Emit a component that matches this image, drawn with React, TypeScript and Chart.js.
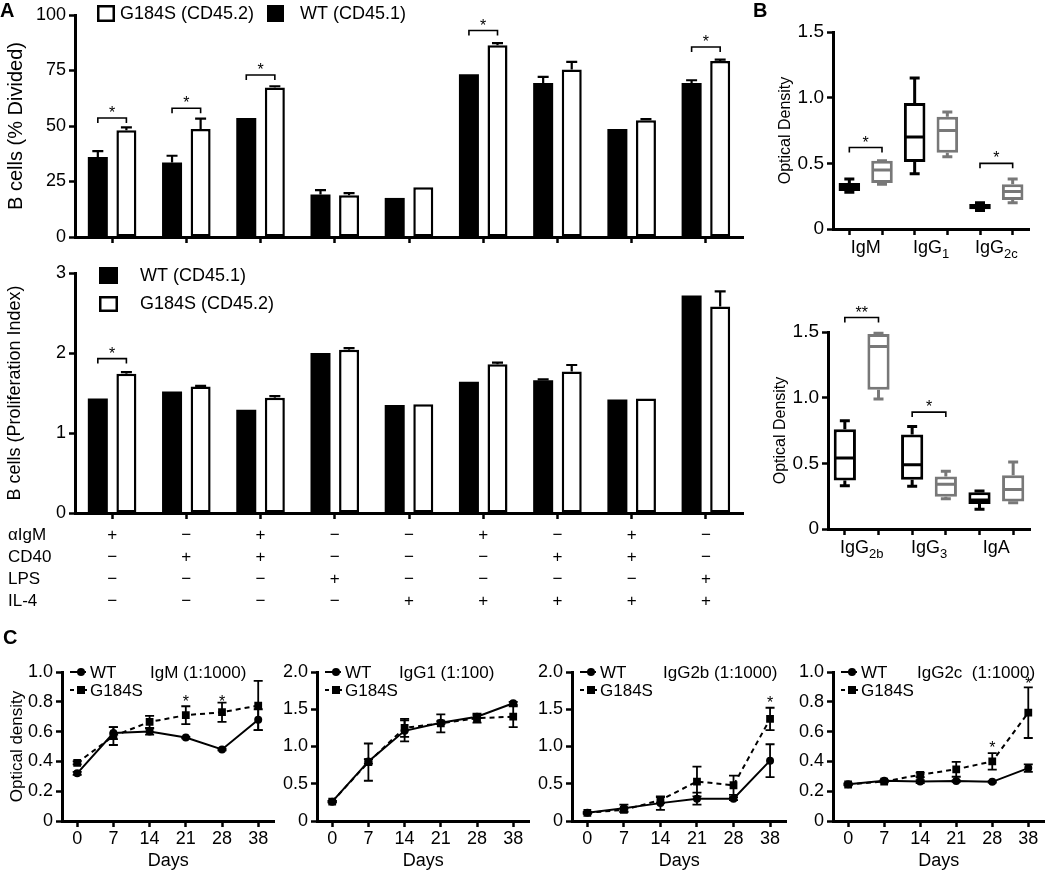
import React, { useEffect, useRef } from 'react';
import { Chart, registerables } from 'chart.js';

Chart.register(...registerables);

const FONT = "'Liberation Sans', Arial, Helvetica, sans-serif";
Chart.defaults.font.family = FONT;
Chart.defaults.color = '#000';

const BLACK = '#000';
const GRAY = '#787878';

// ---------------- Panel A data ----------------
const conditionLabels = ['c1', 'c2', 'c3', 'c4', 'c5', 'c6', 'c7', 'c8', 'c9'];
const treatmentRows = ['αIgM', 'CD40', 'LPS', 'IL-4'];
const rowAlphaIgM = ['+', '−', '+', '−', '−', '+', '−', '+', '−'];
const rowCD40 = ['−', '+', '+', '−', '−', '−', '+', '+', '−'];
const rowLPS = ['−', '−', '−', '+', '−', '−', '−', '−', '+'];
const rowIL4 = ['−', '−', '−', '−', '+', '+', '+', '+', '+'];

const dividedWT = [36.0, 33.6, 53.6, 19.2, 17.6, 73.3, 69.4, 48.6, 69.4];
const dividedWTErr = [2.7, 3.0, 0, 1.9, 0, 0, 2.7, 0, 1.2];
const dividedG184S = [48.1, 48.6, 67.3, 18.8, 22.4, 86.4, 75.5, 52.6, 79.3];
const dividedG184SErr = [1.3, 4.7, 0.6, 1.0, 0, 0.9, 3.4, 0.5, 0.6];
const dividedSigIdx = [0, 1, 2, 5, 8];
const dividedSigY = [53.6, 58.0, 73.0, 93.0, 85.6];

const prolifWT = [1.43, 1.52, 1.29, 2.0, 1.35, 1.64, 1.66, 1.42, 2.72];
const prolifWTErr = [0, 0, 0, 0, 0, 0, 0.01, 0, 0];
const prolifG184S = [1.74, 1.58, 1.44, 2.04, 1.36, 1.86, 1.77, 1.43, 2.58];
const prolifG184SErr = [0.02, 0.01, 0.02, 0.02, 0, 0.02, 0.08, 0, 0.19];
const prolifSigIdx = [0];
const prolifSigY = [1.93];

// ---------------- Panel B data: [min, q1, median, q3, max] ----------------
const igM_WT = [0.28, 0.29, 0.32, 0.35, 0.38];
const igM_G184S = [0.34, 0.35, 0.45, 0.52, 0.52];
const igG1_WT = [0.42, 0.51, 0.70, 0.96, 1.15];
const igG1_G184S = [0.55, 0.58, 0.75, 0.855, 0.89];
const igG2c_WT = [0.14, 0.15, 0.17, 0.19, 0.20];
const igG2c_G184S = [0.20, 0.22, 0.285, 0.34, 0.38];
const b1Labels = ['IgM', 'IgG', 'IgG'];
const b1Subs = ['', '1', '2c'];
const b1SigIdx = [0, 2];
const b1SigY = [0.62, 0.50];
const b1SigText = ['*', '*'];

const igG2b_WT = [0.33, 0.37, 0.54, 0.76, 0.825];
const igG2b_G184S = [0.99, 1.06, 1.39, 1.485, 1.49];
const igG3_WT = [0.325, 0.375, 0.49, 0.72, 0.78];
const igG3_G184S = [0.23, 0.245, 0.34, 0.40, 0.44];
const igA_WT = [0.15, 0.19, 0.22, 0.28, 0.29];
const igA_G184S = [0.20, 0.21, 0.30, 0.41, 0.51];
const b2Labels = ['IgG', 'IgG', 'IgA'];
const b2Subs = ['2b', '3', ''];
const b2SigIdx = [0, 1];
const b2SigY = [1.61, 0.89];
const b2SigText = ['**', '*'];

// ---------------- Panel C data ----------------
const dayLabels = ['0', '7', '14', '21', '28', '38'];

const igmWT = [0.32, 0.59, 0.60, 0.56, 0.48, 0.68];
const igmWTErr = [0.01, 0.04, 0.02, 0.005, 0.005, 0.07];
const igmG184S = [0.39, 0.57, 0.665, 0.71, 0.73, 0.775];
const igmG184SErr = [0.01, 0.06, 0.04, 0.06, 0.065, 0.165];
const igmStarIdx = [3, 4];
const igmStarY = [0.825, 0.825];

const igg1WT = [0.26, 0.80, 1.21, 1.32, 1.40, 1.58];
const igg1WTErr = [0.01, 0.03, 0.14, 0.02, 0.02, 0.02];
const igg1G184S = [0.26, 0.79, 1.25, 1.31, 1.38, 1.40];
const igg1G184SErr = [0.01, 0.25, 0.12, 0.12, 0.06, 0.14];
const igg1StarIdx: number[] = [];
const igg1StarY: number[] = [];

const igg2bWT = [0.11, 0.17, 0.24, 0.30, 0.30, 0.81];
const igg2bWTErr = [0.01, 0.05, 0.09, 0.08, 0.02, 0.22];
const igg2bG184S = [0.11, 0.15, 0.28, 0.53, 0.48, 1.37];
const igg2bG184SErr = [0.01, 0.02, 0.04, 0.20, 0.13, 0.15];
const igg2bStarIdx = [5];
const igg2bStarY = [1.64];

const igg2cWT = [0.247, 0.27, 0.265, 0.268, 0.263, 0.355];
const igg2cWTErr = [0.005, 0.005, 0.01, 0.005, 0.005, 0.025];
const igg2cG184S = [0.245, 0.265, 0.31, 0.347, 0.40, 0.727];
const igg2cG184SErr = [0.005, 0.005, 0.015, 0.05, 0.055, 0.17];
const igg2cStarIdx = [4, 5];
const igg2cStarY = [0.515, 0.945];

// ---------------- helpers ----------------
function yAxis(o: {
  min: number; max: number; step: number; width: number; title?: string; titlePad?: number;
  titleSize?: number; tickSize?: number; fmt: (v: number) => string;
}) {
  return {
    type: 'linear',
    min: o.min,
    max: o.max,
    ticks: { stepSize: o.step, font: { size: o.tickSize ?? 17 }, color: BLACK, padding: 3, callback: (v: any) => o.fmt(Number(v)) },
    grid: { display: true, drawOnChartArea: false, drawTicks: true, tickLength: 6, tickWidth: 2.5, tickColor: BLACK },
    border: { display: true, width: 3, color: BLACK },
    title: o.title
      ? { display: true, text: o.title, font: { size: o.titleSize ?? 17 }, color: BLACK, padding: { top: o.titlePad ?? 5, bottom: 0 } }
      : { display: false },
    afterFit: (s: any) => { s.width = o.width; },
  };
}

function catAxis(height: number) {
  return {
    type: 'category',
    offset: true,
    ticks: { display: false },
    grid: { display: true, offset: false, drawOnChartArea: false, drawTicks: true, tickLength: 6, tickWidth: 2.5, tickColor: BLACK },
    border: { display: true, width: 3, color: BLACK },
    afterFit: (s: any) => { s.height = height; },
  };
}

function drawStar(ctx: CanvasRenderingContext2D, x: number, yCenter: number, text: string, size = 15) {
  ctx.save();
  ctx.fillStyle = BLACK;
  ctx.font = `${size}px ${FONT}`;
  ctx.textAlign = 'center';
  ctx.textBaseline = 'alphabetic';
  ctx.fillText(text, x, yCenter + 0.57 * size);
  ctx.restore();
}

function drawBracket(ctx: CanvasRenderingContext2D, x1: number, x2: number, y: number, text: string) {
  ctx.save();
  ctx.strokeStyle = BLACK;
  ctx.lineWidth = 1.6;
  ctx.beginPath();
  ctx.moveTo(x1, y + 5);
  ctx.lineTo(x1, y);
  ctx.lineTo(x2, y);
  ctx.lineTo(x2, y + 5);
  ctx.stroke();
  ctx.restore();
  drawStar(ctx, (x1 + x2) / 2, y - 9, text, 16);
}

function drawBarErrors(chart: any, dsIndex: number, values: number[], errs: number[]) {
  const ctx = chart.ctx;
  const y = chart.scales.y;
  const meta = chart.getDatasetMeta(dsIndex);
  ctx.save();
  ctx.strokeStyle = BLACK;
  ctx.lineWidth = 2.2;
  errs.forEach((e, i) => {
    if (!e) return;
    const el: any = meta.data[i];
    const y0 = y.getPixelForValue(values[i]);
    const y1 = y.getPixelForValue(values[i] + e);
    ctx.beginPath();
    ctx.moveTo(el.x, y0);
    ctx.lineTo(el.x, y1);
    ctx.moveTo(el.x - 5.5, y1);
    ctx.lineTo(el.x + 5.5, y1);
    ctx.stroke();
  });
  ctx.restore();
}

function legendBox(ctx: CanvasRenderingContext2D, x: number, y: number, w: number, h: number, filled: boolean, text: string, tx: number, size = 17) {
  ctx.save();
  if (filled) {
    ctx.fillStyle = BLACK;
    ctx.fillRect(x, y, w, h);
  } else {
    ctx.strokeStyle = BLACK;
    ctx.lineWidth = 2.5;
    ctx.strokeRect(x + 1.25, y + 1.25, w - 2.5, h - 2.5);
  }
  ctx.fillStyle = BLACK;
  ctx.font = `${size}px ${FONT}`;
  ctx.textAlign = 'left';
  ctx.textBaseline = 'middle';
  ctx.fillText(text, tx, y + h / 2 + 0.5);
  ctx.restore();
}

const baseOptions = (padTop: number, padRight: number) => ({
  responsive: false,
  animation: false,
  layout: { padding: { top: padTop, right: padRight, left: 0, bottom: 0 } },
  plugins: { legend: { display: false }, tooltip: { enabled: false } },
});

// ---------------- Panel A charts ----------------
function makeBarChart(o: {
  wt: number[]; wtErr: number[]; g: number[]; gErr: number[]; sigIdx: number[]; sigY: number[];
  max: number; step: number; title: string; titlePad: number; titleSize: number; padTop: number; xHeight: number;
  legend: (ctx: CanvasRenderingContext2D) => void; table: boolean;
}) {
  return {
    type: 'bar',
    data: {
      labels: conditionLabels,
      datasets: [
        { label: 'WT (CD45.1)', data: o.wt, backgroundColor: BLACK, borderColor: BLACK, borderWidth: 0, barPercentage: 0.7, categoryPercentage: 0.77 },
        { label: 'G184S (CD45.2)', data: o.g, backgroundColor: '#fff', borderColor: BLACK, borderWidth: 2.5, borderSkipped: false, barPercentage: 0.7, categoryPercentage: 0.77 },
      ],
    },
    options: {
      ...baseOptions(o.padTop, 17),
      scales: {
        x: catAxis(o.xHeight),
        y: yAxis({ min: 0, max: o.max, step: o.step, width: 75, title: o.title, titlePad: o.titlePad, titleSize: o.titleSize, tickSize: 18, fmt: (v) => String(v) }),
      },
    },
    plugins: [
      {
        id: 'barExtras',
        afterDatasetsDraw(chart: any) {
          const ctx = chart.ctx;
          drawBarErrors(chart, 0, o.wt, o.wtErr);
          drawBarErrors(chart, 1, o.g, o.gErr);
          const m0 = chart.getDatasetMeta(0);
          const m1 = chart.getDatasetMeta(1);
          o.sigIdx.forEach((gi, k) => {
            const y = chart.scales.y.getPixelForValue(o.sigY[k]);
            drawBracket(ctx, m0.data[gi].x, m1.data[gi].x, y, '*');
          });
          o.legend(ctx);
          if (o.table) {
            const xs = chart.scales.x;
            const rows = [rowAlphaIgM, rowCD40, rowLPS, rowIL4];
            ctx.save();
            ctx.fillStyle = BLACK;
            ctx.font = `17px ${FONT}`;
            ctx.textBaseline = 'middle';
            rows.forEach((row, r) => {
              const y = chart.chartArea.bottom + 22 + r * 22;
              ctx.textAlign = 'left';
              ctx.fillText(treatmentRows[r], 8, y);
              ctx.textAlign = 'center';
              row.forEach((s, i) => ctx.fillText(s, xs.getPixelForValue(i), y));
            });
            ctx.restore();
          }
        },
      },
    ],
  };
}

const makeA1 = () =>
  makeBarChart({
    wt: dividedWT, wtErr: dividedWTErr, g: dividedG184S, gErr: dividedG184SErr,
    sigIdx: dividedSigIdx, sigY: dividedSigY, max: 100, step: 25,
    title: 'B cells (% Divided)', titlePad: 4, titleSize: 20, padTop: 15, xHeight: 15, table: false,
    legend: (ctx) => {
      legendBox(ctx, 97, 5, 18, 17, false, 'G184S (CD45.2)', 120, 18);
      legendBox(ctx, 267, 5, 17, 17, true, 'WT (CD45.1)', 300, 18);
    },
  });

const makeA2 = () =>
  makeBarChart({
    wt: prolifWT, wtErr: prolifWTErr, g: prolifG184S, gErr: prolifG184SErr,
    sigIdx: prolifSigIdx, sigY: prolifSigY, max: 3, step: 1,
    title: 'B cells (Proliferation Index)', titlePad: 4, titleSize: 18, padTop: 18, xHeight: 102, table: true,
    legend: (ctx) => {
      legendBox(ctx, 99, 12, 19, 17, true, 'WT (CD45.1)', 140, 18);
      legendBox(ctx, 99, 41, 19, 16, false, 'G184S (CD45.2)', 140, 18);
    },
  });

// ---------------- Panel B charts ----------------
function makeBoxChart(o: {
  boxes: number[][]; labels: string[]; subs: string[]; sigIdx: number[]; sigY: number[]; sigText: string[];
  padTop: number; padRight: number;
}) {
  const colors = o.boxes.map((_, i) => (i % 2 === 0 ? BLACK : GRAY));
  return {
    type: 'bar',
    data: {
      labels: o.boxes.map((_, i) => 'b' + i),
      datasets: [
        {
          label: 'box',
          data: o.boxes.map((b) => [b[1], b[3]]),
          backgroundColor: '#fff',
          borderColor: colors,
          borderWidth: 3,
          borderSkipped: false,
          barPercentage: 0.66,
          categoryPercentage: 1,
        },
      ],
    },
    options: {
      ...baseOptions(o.padTop, o.padRight),
      scales: {
        x: catAxis(41),
        y: yAxis({ min: 0, max: 1.5, step: 0.5, width: 63, title: 'Optical Density', titlePad: 6, titleSize: 16, tickSize: 19, fmt: (v) => (v === 0 ? '0' : v.toFixed(1)) }),
      },
    },
    plugins: [
      {
        id: 'boxExtras',
        afterDatasetsDraw(chart: any) {
          const ctx = chart.ctx;
          const ys = chart.scales.y;
          const meta = chart.getDatasetMeta(0);
          o.boxes.forEach((b, i) => {
            const el: any = meta.data[i];
            const x = el.x;
            const w = el.width;
            ctx.save();
            ctx.strokeStyle = colors[i];
            ctx.lineWidth = 3;
            ctx.beginPath();
            ctx.moveTo(x - w / 2 + 1, ys.getPixelForValue(b[2]));
            ctx.lineTo(x + w / 2 - 1, ys.getPixelForValue(b[2]));
            ctx.moveTo(x, ys.getPixelForValue(b[3]));
            ctx.lineTo(x, ys.getPixelForValue(b[4]));
            ctx.moveTo(x - 5, ys.getPixelForValue(b[4]));
            ctx.lineTo(x + 5, ys.getPixelForValue(b[4]));
            ctx.moveTo(x, ys.getPixelForValue(b[1]));
            ctx.lineTo(x, ys.getPixelForValue(b[0]));
            ctx.moveTo(x - 5, ys.getPixelForValue(b[0]));
            ctx.lineTo(x + 5, ys.getPixelForValue(b[0]));
            ctx.stroke();
            ctx.restore();
          });
          o.sigIdx.forEach((gi, k) => {
            const y = ys.getPixelForValue(o.sigY[k]);
            drawBracket(ctx, meta.data[gi * 2].x, meta.data[gi * 2 + 1].x, y, o.sigText[k]);
          });
          const xs = chart.scales.x;
          ctx.save();
          ctx.fillStyle = BLACK;
          ctx.textBaseline = 'middle';
          o.labels.forEach((lab, gi) => {
            const cx = (xs.getPixelForValue(gi * 2) + xs.getPixelForValue(gi * 2 + 1)) / 2;
            const y = chart.chartArea.bottom + 19;
            ctx.font = `18px ${FONT}`;
            const w1 = ctx.measureText(lab).width;
            ctx.font = `13px ${FONT}`;
            const w2 = o.subs[gi] ? ctx.measureText(o.subs[gi]).width : 0;
            const start = cx - (w1 + w2) / 2;
            ctx.font = `18px ${FONT}`;
            ctx.textAlign = 'left';
            ctx.fillText(lab, start, y);
            if (o.subs[gi]) {
              ctx.font = `13px ${FONT}`;
              ctx.fillText(o.subs[gi], start + w1, y + 6);
            }
          });
          ctx.restore();
        },
      },
    ],
  };
}

const makeB1 = () =>
  makeBoxChart({
    boxes: [igM_WT, igM_G184S, igG1_WT, igG1_G184S, igG2c_WT, igG2c_G184S],
    labels: b1Labels, subs: b1Subs, sigIdx: b1SigIdx, sigY: b1SigY, sigText: b1SigText,
    padTop: 32, padRight: 21,
  });

const makeB2 = () =>
  makeBoxChart({
    boxes: [igG2b_WT, igG2b_G184S, igG3_WT, igG3_G184S, igA_WT, igA_G184S],
    labels: b2Labels, subs: b2Subs, sigIdx: b2SigIdx, sigY: b2SigY, sigText: b2SigText,
    padTop: 42, padRight: 20,
  });

// ---------------- Panel C charts ----------------
function makeLineChart(o: {
  wt: number[]; wtErr: number[]; g: number[]; gErr: number[]; max: number; step: number;
  yWidth: number; yTitle?: string; title: string; titleDx: number; starIdx: number[]; starY: number[]; padRight: number;
}) {
  const pts = (arr: number[]) => arr.map((v, i) => ({ x: i, y: v }));
  return {
    type: 'line',
    data: {
      datasets: [
        { label: 'WT', data: pts(o.wt), borderColor: BLACK, backgroundColor: BLACK, borderWidth: 2, tension: 0, pointStyle: 'circle', pointRadius: 4, pointBackgroundColor: BLACK, pointBorderWidth: 0 },
        { label: 'G184S', data: pts(o.g), borderColor: BLACK, backgroundColor: BLACK, borderWidth: 2, borderDash: [5, 4], tension: 0, pointStyle: 'rect', pointRadius: 5.5, pointBackgroundColor: BLACK, pointBorderWidth: 0 },
      ],
    },
    options: {
      ...baseOptions(32, o.padRight),
      scales: {
        x: {
          type: 'linear',
          min: -0.42,
          max: 5.45,
          afterBuildTicks: (s: any) => { s.ticks = dayLabels.map((_, i) => ({ value: i })); },
          ticks: { font: { size: 18 }, color: BLACK, padding: 1, autoSkip: false, maxRotation: 0, callback: (v: any) => dayLabels[v] ?? '' },
          grid: { display: true, drawOnChartArea: false, drawTicks: true, tickLength: 6, tickWidth: 2.5, tickColor: BLACK },
          border: { display: true, width: 3, color: BLACK },
          title: { display: true, text: 'Days', font: { size: 18 }, color: BLACK, padding: { top: 0, bottom: 0 } },
          afterFit: (s: any) => { s.height = 51; },
        },
        y: yAxis({ min: 0, max: o.max, step: o.step, width: o.yWidth, title: o.yTitle, titlePad: 7, titleSize: 17, tickSize: 18, fmt: (v) => (v === 0 ? '0' : v.toFixed(1)) }),
      },
    },
    plugins: [
      {
        id: 'lineExtras',
        afterDatasetsDraw(chart: any) {
          const ctx = chart.ctx;
          const xs = chart.scales.x;
          const ys = chart.scales.y;
          ctx.save();
          ctx.strokeStyle = BLACK;
          ctx.lineWidth = 1.8;
          const err = (vals: number[], errs: number[]) => {
            vals.forEach((v, i) => {
              const e = errs[i];
              if (!e) return;
              const x = xs.getPixelForValue(i);
              const y0 = ys.getPixelForValue(v - e);
              const y1 = ys.getPixelForValue(v + e);
              ctx.beginPath();
              ctx.moveTo(x, y0);
              ctx.lineTo(x, y1);
              ctx.moveTo(x - 4.5, y0);
              ctx.lineTo(x + 4.5, y0);
              ctx.moveTo(x - 4.5, y1);
              ctx.lineTo(x + 4.5, y1);
              ctx.stroke();
            });
          };
          err(o.wt, o.wtErr);
          err(o.g, o.gErr);
          ctx.restore();
          o.starIdx.forEach((si, k) => drawStar(ctx, xs.getPixelForValue(si), ys.getPixelForValue(o.starY[k]), '*', 16));

          // legend + title
          const ca = chart.chartArea;
          const lx = ca.left + 8;
          const y1 = ca.top;
          const y2 = ca.top + 18;
          ctx.save();
          ctx.strokeStyle = BLACK;
          ctx.fillStyle = BLACK;
          ctx.lineWidth = 2;
          ctx.beginPath();
          ctx.moveTo(lx, y1);
          ctx.lineTo(lx + 16, y1);
          ctx.stroke();
          ctx.beginPath();
          ctx.arc(lx + 11, y1, 4, 0, Math.PI * 2);
          ctx.fill();
          ctx.setLineDash([4, 3]);
          ctx.beginPath();
          ctx.moveTo(lx, y2);
          ctx.lineTo(lx + 17, y2);
          ctx.stroke();
          ctx.setLineDash([]);
          ctx.fillRect(lx + 7, y2 - 4, 8, 8);
          ctx.font = `17px ${FONT}`;
          ctx.textAlign = 'left';
          ctx.textBaseline = 'middle';
          ctx.fillText('WT', lx + 20, y1 + 1);
          ctx.fillText('G184S', lx + 20, y2 + 1);
          ctx.fillText(o.title, ca.left + o.titleDx, y1 + 1);
          ctx.restore();
        },
      },
    ],
  };
}

const makeC1 = () =>
  makeLineChart({ wt: igmWT, wtErr: igmWTErr, g: igmG184S, gErr: igmG184SErr, max: 1, step: 0.2, yWidth: 62, yTitle: 'Optical density', title: 'IgM (1:1000)', titleDx: 88, starIdx: igmStarIdx, starY: igmStarY, padRight: 4 });
const makeC2 = () =>
  makeLineChart({ wt: igg1WT, wtErr: igg1WTErr, g: igg1G184S, gErr: igg1G184SErr, max: 2, step: 0.5, yWidth: 52, title: 'IgG1 (1:100)', titleDx: 82, starIdx: igg1StarIdx, starY: igg1StarY, padRight: 5 });
const makeC3 = () =>
  makeLineChart({ wt: igg2bWT, wtErr: igg2bWTErr, g: igg2bG184S, gErr: igg2bG184SErr, max: 2, step: 0.5, yWidth: 47, title: 'IgG2b (1:1000)', titleDx: 91, starIdx: igg2bStarIdx, starY: igg2bStarY, padRight: 3 });
const makeC4 = () =>
  makeLineChart({ wt: igg2cWT, wtErr: igg2cWTErr, g: igg2cG184S, gErr: igg2cG184SErr, max: 1, step: 0.2, yWidth: 48, title: 'IgG2c  (1:1000)', titleDx: 84, starIdx: igg2cStarIdx, starY: igg2cStarY, padRight: 1 });

// ---------------- components ----------------
function ChartCanvas({ x, y, w, h, make }: { x: number; y: number; w: number; h: number; make: () => any }) {
  const ref = useRef<HTMLCanvasElement>(null);
  useEffect(() => {
    const chart = new Chart(ref.current as HTMLCanvasElement, make());
    return () => chart.destroy();
  }, []);
  return <canvas ref={ref} width={w} height={h} style={{ position: 'absolute', left: x, top: y, width: w, height: h }} />;
}

const letterStyle = (left: number, top: number): React.CSSProperties => ({
  position: 'absolute',
  left,
  top,
  fontFamily: FONT,
  fontWeight: 'bold',
  fontSize: 20,
  lineHeight: '20px',
  color: '#000',
});

export default function App() {
  return (
    <div style={{ position: 'absolute', left: 0, top: 0, width: 1050, height: 872, background: '#fff', overflow: 'hidden' }}>
      <ChartCanvas x={0} y={0} w={760} h={252} make={makeA1} />
      <ChartCanvas x={0} y={255} w={760} h={360} make={makeA2} />
      <ChartCanvas x={770} y={0} w={280} h={270} make={makeB1} />
      <ChartCanvas x={765} y={290} w={285} h={280} make={makeB2} />
      <ChartCanvas x={0} y={640} w={280} h={232} make={makeC1} />
      <ChartCanvas x={265} y={640} w={270} h={232} make={makeC2} />
      <ChartCanvas x={525} y={640} w={267} h={232} make={makeC3} />
      <ChartCanvas x={785} y={640} w={265} h={232} make={makeC4} />
      <div style={letterStyle(0, 0)}>A</div>
      <div style={letterStyle(753, 0)}>B</div>
      <div style={letterStyle(3, 627)}>C</div>
    </div>
  );
}
